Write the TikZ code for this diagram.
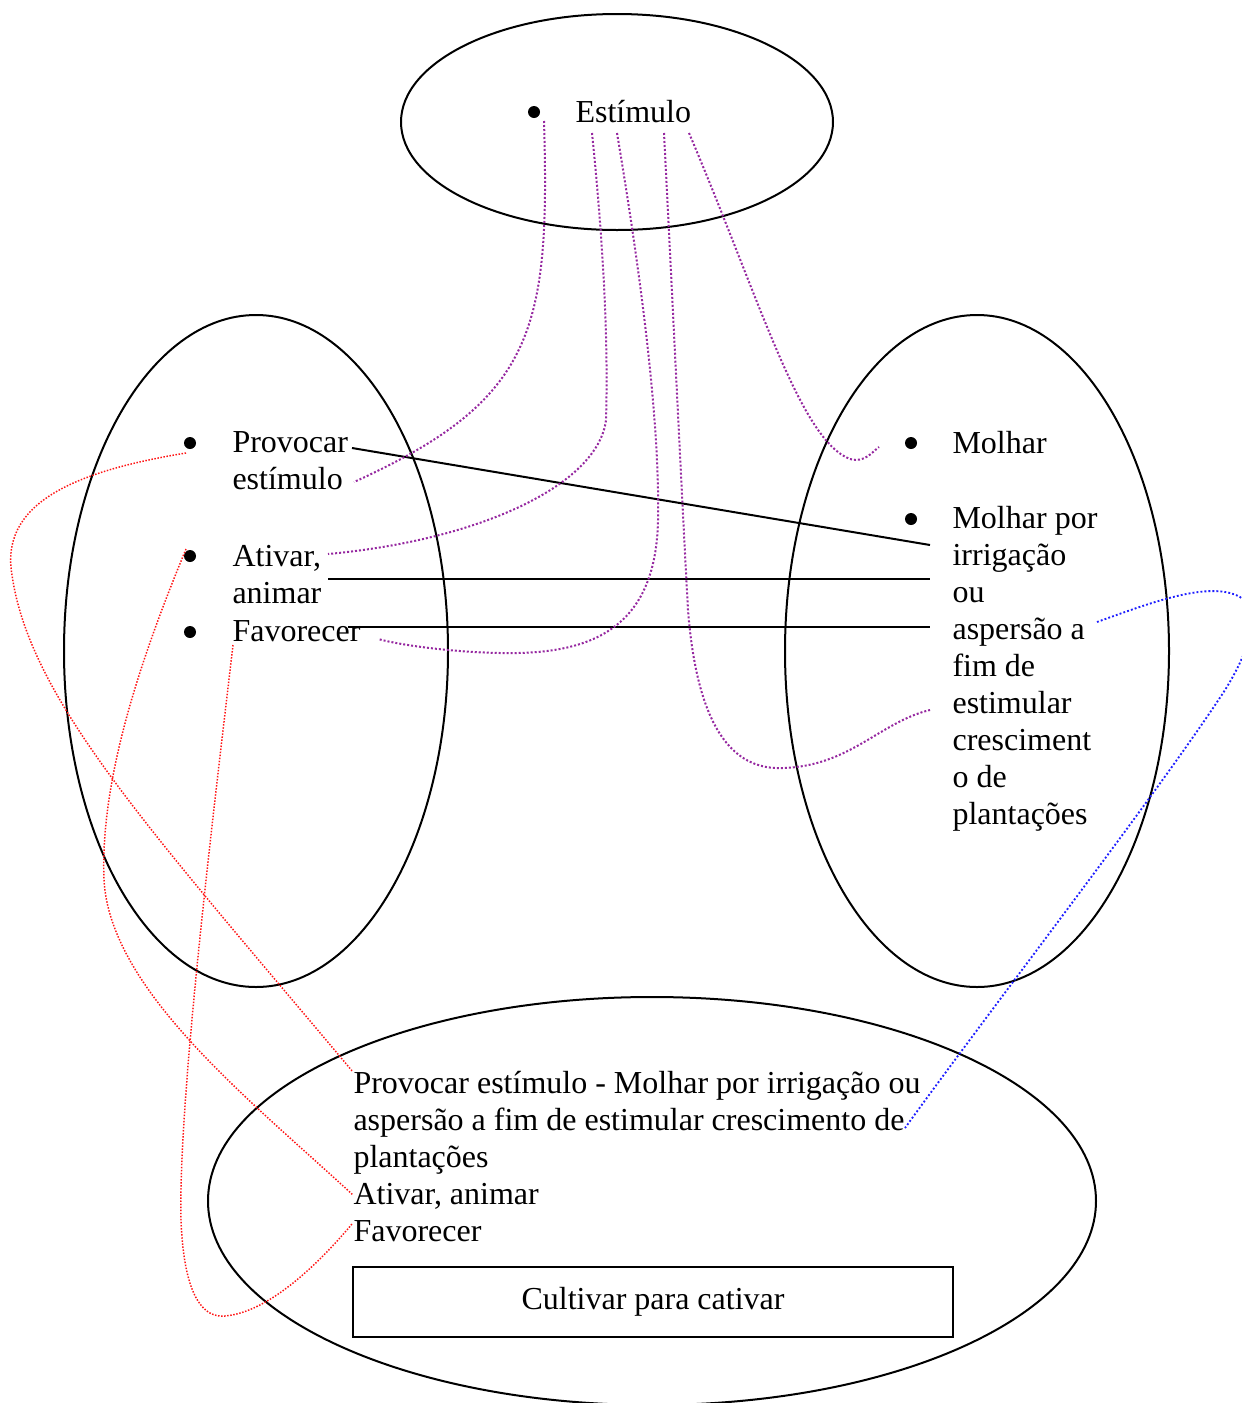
\documentclass[tikz,border=0pt]{standalone}
\usepackage{fontspec}
\setmainfont{Liberation Serif}
\usetikzlibrary{shapes.geometric}
\definecolor{linkpurple}{RGB}{150,40,160}
\definecolor{linkred}{RGB}{255,20,20}
\definecolor{linkblue}{RGB}{30,30,255}
\newcommand\textlines[1]{\parbox[t]{320pt}{\raggedright\fontsize{12pt}{13.875pt}\selectfont #1}}

\begin{document}
\begin{tikzpicture}[x=0.375pt,y=-0.375pt,
  oval/.style={draw,ellipse,line width=0.75pt,inner sep=0pt},
  dot/.style={circle,fill,inner sep=0pt,minimum size=4.5pt},
  txt/.style={anchor=base west,inner sep=0pt,font=\fontsize{12pt}{13.875pt}\selectfont},
  link/.style={line width=0.75pt},
  purplelink/.style={linkpurple,line width=0.75pt,dash pattern=on 0.75pt off 0.75pt},
  redlink/.style={linkred,line width=0.55pt,dash pattern=on 0.55pt off 0.6pt},
  bluelink/.style={linkblue,line width=0.7pt,dash pattern=on 0.7pt off 0.8pt}]

\useasboundingbox (0,0) rectangle (1242,1403);
\fill[white] (0,0) rectangle (1242,1403);
\clip (0,0) rectangle (1242,1403);

% the four groups
\node (topOval)   [oval,minimum width=162pt,minimum height=81pt]  at (617,122) {};
\node (leftOval)  [oval,minimum width=144pt,minimum height=252pt] at (256,651) {};
\node (rightOval) [oval,minimum width=144pt,minimum height=252pt] at (977,651) {};
\node (bottomOval)[oval,minimum width=333pt,minimum height=153pt] at (652,1201) {};

% top group
\node (dotEst) [dot] at (534,112) {};
\node (est) [txt] at (575,122) {Estímulo};

% left group
\node (dotProv) [dot] at (190,443) {};
\node (prov) [txt] at (232,452) {\textlines{Provocar\\estímulo}};
\node (dotAtiv) [dot] at (190,556) {};
\node (ativ) [txt] at (232,566) {\textlines{Ativar,\\animar}};
\node (dotFav) [dot] at (190,632) {};
\node (fav) [txt] at (232,641) {Favorecer};

% right group
\node (dotMol) [dot] at (911,443) {};
\node (mol) [txt] at (952,453) {Molhar};
\node (dotMolIrr) [dot] at (911,519) {};
\node (molIrr) [txt] at (952,528) {\textlines{Molhar por\\irrigação\\ou\\aspersão a\\fim de\\estimular\\cresciment\\o de\\plantações}};

% bottom group
\node (sum) [txt] at (353,1093) {\textlines{Provocar estímulo - Molhar por irrigação ou\\aspersão a fim de estimular crescimento de\\plantações\\Ativar, animar\\Favorecer}};
\node (cult) [draw,line width=0.75pt,minimum width=225pt,minimum height=26.6pt,inner sep=0pt,
  font=\fontsize{12pt}{13.875pt}\selectfont] at (653,1302) {Cultivar para cativar};

% connector ends
\coordinate (provEnd)  at (352,448);
\coordinate (irrEnd)   at (930,545);
\coordinate (animEnd)  at (328,579);
\coordinate (ouEnd)    at (930,579);
\coordinate (favEnd)   at (348,627);
\coordinate (aspEnd)   at (930,627);

\coordinate (estA) at (544,121);
\coordinate (estB) at (592,133);
\coordinate (estC) at (617,133);
\coordinate (estD) at (664,133);
\coordinate (estE) at (689,133);
\coordinate (estimuloEnd) at (354,482);
\coordinate (ativarEnd)   at (328,554);
\coordinate (favorEnd)    at (378,639);
\coordinate (estimularEnd) at (930,710);
\coordinate (molharEnd)   at (879,447);

\coordinate (provStart) at (186,453);
\coordinate (ativStart) at (186,549);
\coordinate (favStart)  at (233,645);
\coordinate (sumProv) at (353,1072);
\coordinate (sumAtiv) at (353,1195);
\coordinate (sumFav)  at (352,1224);

\coordinate (aspStart) at (1097,622);
\coordinate (sumCresc) at (905,1128);

% solid links between the side groups
\draw[link] (provEnd) -- (irrEnd);
\draw[link] (animEnd) -- (ouEnd);
\draw[link] (favEnd) -- (aspEnd);

% purple links from the top group
\draw[purplelink] (estA) .. controls (550,330) and (535,400) .. (estimuloEnd);
\draw[purplelink] (estB) .. controls (605,260) and (608,350) .. (606,420)
  .. controls (598,485) and (480,540) .. (ativarEnd);
\draw[purplelink] (estC) .. controls (640,270) and (660,420) .. (658,520)
  .. controls (656,630) and (590,655) .. (500,653)
  .. controls (450,652) and (400,645) .. (favorEnd);
\draw[purplelink] (estD) .. controls (675,350) and (682,500) .. (688,610)
  .. controls (698,740) and (740,770) .. (783,768)
  .. controls (850,766) and (880,722) .. (estimularEnd);
\draw[purplelink] (estE) .. controls (760,300) and (800,440) .. (850,459)
  .. controls (865,463) and (872,452) .. (molharEnd);

% red links from the left group to the summary
\draw[redlink] (provStart) .. controls (70,472) and (0,505) .. (12,575)
  .. controls (30,700) and (150,830) .. (sumProv);
\draw[redlink] (ativStart) .. controls (140,660) and (100,780) .. (104,880)
  .. controls (110,990) and (250,1100) .. (sumAtiv);
\draw[redlink] (favStart) .. controls (215,800) and (178,1100) .. (181,1220)
  .. controls (184,1300) and (205,1318) .. (225,1316)
  .. controls (270,1312) and (320,1262) .. (sumFav);

% blue link from the right group to the summary
\draw[bluelink] (aspStart) .. controls (1150,603) and (1210,580) .. (1240,597)
  .. controls (1262,610) and (1250,650) .. (1225,690)
  .. controls (1160,790) and (990,1010) .. (sumCresc);
\end{tikzpicture}
\end{document}
